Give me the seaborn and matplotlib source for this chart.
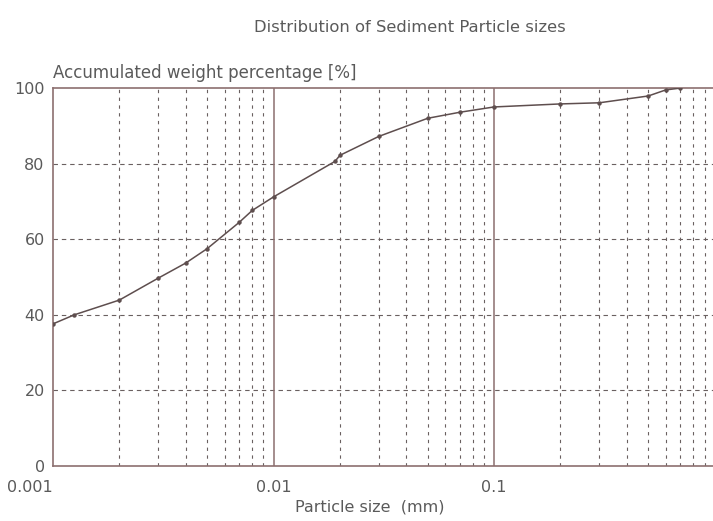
import matplotlib
matplotlib.use("Agg")
import matplotlib.pyplot as plt
import seaborn as sns
import pandas as pd
from matplotlib.ticker import FixedLocator, NullFormatter

# === Data ===
particle_size = [0.001, 0.00125, 0.002, 0.003, 0.004, 0.005, 0.007, 0.008, 0.01,
                 0.019, 0.02, 0.03, 0.05, 0.07, 0.1, 0.2, 0.3, 0.5, 0.6, 0.7]
weight_pct = [37.6, 40.0, 43.9, 49.7, 53.7, 57.5, 64.5, 67.6, 71.2,
              80.6, 82.2, 87.2, 92.0, 93.6, 95.0, 95.8, 96.1, 97.9, 99.5, 100.0]

x_ticks = [0.001, 0.01, 0.1]
x_tick_labels = ["0.001", "0.01", "0.1"]
y_ticks = [0, 20, 40, 60, 80, 100]

df = pd.DataFrame({"size": particle_size, "pct": weight_pct})

line_col = "#5e4e4e"
spine_col = "#8c6f6f"
grid_col = "#6a6060"
text_col = "#5a5a5a"

sns.set_style("white")
plt.rcParams["font.family"] = ["DejaVu Sans"]

fig = plt.figure(figsize=(7.13, 5.21), dpi=100)
ax = fig.add_axes([0.0743, 0.1056, 0.928, 0.7254])

sns.lineplot(data=df, x="size", y="pct", ax=ax, color=line_col, linewidth=1.1,
             marker="o", markersize=3.2, markeredgewidth=0, zorder=5)

ax.set_xscale("log")
ax.set_xlim(0.001, 1.0)
ax.set_ylim(0, 100)

# major decade lines solid, minor lines dashed
minor_x = [m * d for d in [0.001, 0.01, 0.1] for m in range(2, 10)]
ax.xaxis.set_major_locator(FixedLocator(x_ticks))
ax.set_xticklabels(x_tick_labels)
ax.xaxis.set_minor_locator(FixedLocator(minor_x))
ax.xaxis.set_minor_formatter(NullFormatter())
ax.set_yticks(y_ticks)

for xv in [0.01, 0.1]:
    ax.axvline(xv, color=spine_col, linewidth=1.1, zorder=2)
for xv in minor_x:
    ax.axvline(xv, color=grid_col, linewidth=0.8, linestyle=(0, (3, 4)), zorder=1)
for yv in y_ticks[1:-1]:
    ax.axhline(yv, color=grid_col, linewidth=0.8, linestyle=(0, (4, 3.5)), zorder=1)

for side in ["left", "bottom", "top"]:
    ax.spines[side].set_color(spine_col)
    ax.spines[side].set_linewidth(1.2)
ax.spines["right"].set_visible(False)

ax.tick_params(axis="x", which="major", direction="in", length=0, labelsize=11.5,
               labelcolor=text_col, pad=10)
ax.tick_params(axis="x", which="minor", direction="in", length=6, color=line_col, width=0.9)
ax.tick_params(axis="y", direction="in", length=0, labelsize=11.5, labelcolor=text_col, pad=6)
ax.get_xticklabels()[0].set_horizontalalignment("right")

ax.set_xlabel("Particle size  (mm)", fontsize=11.5, color=text_col)
ax.set_ylabel("")
ax.xaxis.set_label_coords(0.478, -0.09)
ax.text(0.0, 1.015, "Accumulated weight percentage [%]", transform=ax.transAxes,
        fontsize=12, color=text_col, ha="left", va="bottom")
fig.text(0.575, 0.948, "Distribution of Sediment Particle sizes", fontsize=11.8,
         color=text_col, ha="center", va="center")

fig.savefig("out.png", dpi=100)
plt.close(fig)
